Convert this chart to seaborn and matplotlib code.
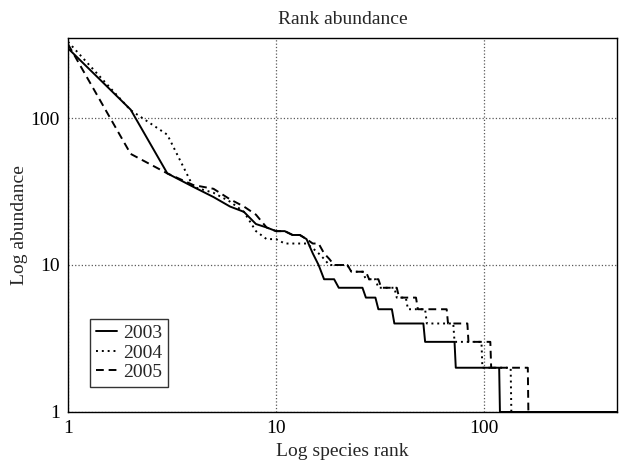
import pandas as pd
import seaborn as sns
import matplotlib.pyplot as plt
from matplotlib.ticker import FixedLocator, FixedFormatter, NullLocator

# vertices of the rank-abundance curves (rank, abundance)
rank_2003 = [1, 2, 3, 4, 5, 6, 7, 8, 9, 10, 11, 12, 13, 14, 15, 16, 17, 19, 20, 26,
             27, 30, 31, 36, 37, 51, 52, 72, 73, 118, 119, 435]
abund_2003 = [298, 114, 42, 34, 29, 25, 23, 19, 18, 17, 17, 16, 16, 15, 12, 10, 8, 8, 7, 7,
              6, 6, 5, 5, 4, 4, 3, 3, 2, 2, 1, 1]

rank_2004 = [1, 2, 3, 4, 5, 6, 7, 8, 9, 10, 11, 12, 13, 14, 15, 16, 17, 18, 22, 23,
             26, 27, 30, 31, 37, 38, 42, 43, 52, 53, 71, 72, 97, 98, 134, 135, 435]
abund_2004 = [330, 113, 77, 34, 31, 27, 23, 17, 15, 15, 14, 14, 14, 14, 13, 12, 11, 10, 10, 9,
              9, 8, 8, 7, 7, 6, 6, 5, 5, 4, 4, 3, 3, 2, 2, 1, 1]

rank_2005 = [1, 2, 3, 4, 5, 6, 7, 8, 9, 10, 11, 12, 13, 14, 15, 16, 17, 18, 19, 22,
             23, 27, 28, 31, 32, 38, 39, 47, 48, 66, 67, 83, 84, 107, 108, 162, 163, 435]
abund_2005 = [318, 57, 42, 35, 33, 28, 25, 22, 18, 17, 17, 16, 16, 15, 14, 14, 12, 11, 10, 10,
              9, 9, 8, 8, 7, 7, 6, 6, 5, 5, 4, 4, 3, 3, 2, 2, 1, 1]

years = ["2003", "2004", "2005"]
ticks = [1, 10, 100]
tick_labels = ["1", "10", "100"]

frames = []
for yr, r, a in zip(years, [rank_2003, rank_2004, rank_2005],
                    [abund_2003, abund_2004, abund_2005]):
    frames.append(pd.DataFrame({"rank": r, "abundance": a, "year": yr}))
df = pd.concat(frames, ignore_index=True)

sns.set_style("white")
plt.rcParams['font.family'] = ['Liberation Serif', 'DejaVu Serif']

fig = plt.figure(figsize=(6.19, 4.68), dpi=100)
ax = fig.add_axes([0.1099, 0.1197, 0.887, 0.799])

sns.lineplot(data=df, x="rank", y="abundance", style="year", color="black",
             dashes={"2003": "", "2004": (1, 2), "2005": (4, 2.5)},
             sort=False, estimator=None, linewidth=1.4, ax=ax)

ax.set_xscale("log")
ax.set_yscale("log")
ax.set_xlim(1, 435)
ax.set_ylim(1, 350)

ax.xaxis.set_major_locator(FixedLocator(ticks))
ax.xaxis.set_major_formatter(FixedFormatter(tick_labels))
ax.yaxis.set_major_locator(FixedLocator(ticks))
ax.yaxis.set_major_formatter(FixedFormatter(tick_labels))
ax.xaxis.set_minor_locator(NullLocator())
ax.yaxis.set_minor_locator(NullLocator())
ax.tick_params(length=0, labelsize=14, pad=6, colors="black")

ax.grid(True, which="major", linestyle=":", color="0.35", linewidth=0.9)
for sp in ax.spines.values():
    sp.set_color("black")
    sp.set_linewidth(1.0)

ax.set_title("Rank abundance", fontsize=14, pad=10)
ax.set_xlabel("Log species rank", fontsize=14, labelpad=4)
ax.set_ylabel("Log abundance", fontsize=14, labelpad=2)

handles, labels = ax.get_legend_handles_labels()
leg = ax.legend(handles, labels, loc="lower left", bbox_to_anchor=(0.04, 0.067),
                borderaxespad=0, fontsize=14, handlelength=1.1, handletextpad=0.3,
                labelspacing=0.1, frameon=True, fancybox=False, borderpad=0.3)
leg.get_frame().set_edgecolor("black")
leg.get_frame().set_linewidth(1.0)

fig.savefig("out.png", dpi=100)
